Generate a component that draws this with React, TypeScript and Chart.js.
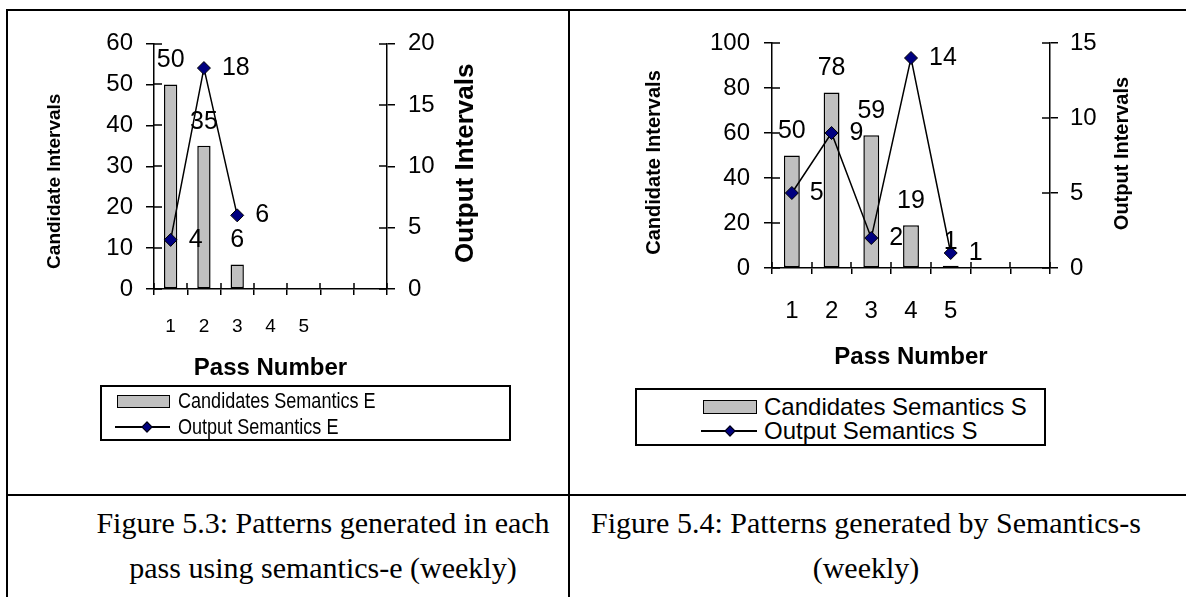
import React, { useEffect, useRef } from "react";
import { Chart, registerables } from "chart.js";

Chart.register(...registerables);

// Pass numbers along the category axis (two trailing empty slots)
const passLabels = ["1", "2", "3", "4", "5", "", ""];

// Semantics-e (weekly)
const candidatesE = [50, 35, 6, null, null, null, null];
const outputE = [4, 18, 6, null, null, null, null];

// Semantics-s (weekly)
const candidatesS = [50, 78, 59, 19, 1, null, null];
const outputS = [5, 9, 2, 14, 1, null, null];

// Axis ranges: [max, step]
const candidateAxisE = [60, 10];
const outputAxisE = [20, 5];
const candidateAxisS = [100, 20];
const outputAxisS = [15, 5];

const SANS = "'Liberation Sans', Arial, Helvetica, sans-serif";
const SERIF = "'Liberation Serif', 'Times New Roman', Times, serif";

// Short inner halves of the tick marks, so every tick crosses its axis
const crossTicks = {
  id: "crossTicks",
  afterDraw(chart: any, _args: any, opts: any) {
    const { ctx, chartArea } = chart;
    ctx.save();
    ctx.strokeStyle = "#000";
    ctx.lineWidth = 1.5;
    Object.values(chart.scales).forEach((s: any) => {
      if (s.axis === "x") {
        const n = s.ticks.length;
        for (let i = 0; i <= n; i++) {
          const x = Math.round(s.left + (s.width * i) / n);
          ctx.beginPath();
          ctx.moveTo(x, chartArea.bottom);
          ctx.lineTo(x, chartArea.bottom - opts.xInner);
          ctx.stroke();
        }
      } else {
        s.ticks.forEach((t: any) => {
          const y = Math.round(s.getPixelForValue(t.value));
          ctx.beginPath();
          if (s.position === "left") {
            ctx.moveTo(chartArea.left, y);
            ctx.lineTo(chartArea.left + opts.yInner, y);
          } else {
            ctx.moveTo(chartArea.right, y);
            ctx.lineTo(chartArea.right - opts.yInner, y);
          }
          ctx.stroke();
        });
      }
    });
    ctx.restore();
  },
};

// Vertical axis titles, both reading bottom-to-top
const sideTitles = {
  id: "sideTitles",
  afterDraw(chart: any, _args: any, opts: any) {
    const { ctx, chartArea } = chart;
    const midY = (chartArea.top + chartArea.bottom) / 2;
    const draw = (t: any, x: number) => {
      ctx.save();
      ctx.translate(x, midY + t.dy);
      ctx.rotate(-Math.PI / 2);
      ctx.font = `bold ${t.size}px ${SANS}`;
      ctx.fillStyle = "#000";
      ctx.textAlign = "center";
      ctx.textBaseline = "middle";
      ctx.fillText(t.text, 0, 0);
      ctx.restore();
    };
    draw(opts.left, chartArea.left - opts.left.dx);
    draw(opts.right, chartArea.right + opts.right.dx);
  },
};

// Value labels: above each bar, to the right of each marker
const valueLabels = {
  id: "valueLabels",
  afterDatasetsDraw(chart: any, _args: any, opts: any) {
    const { ctx } = chart;
    ctx.save();
    ctx.fillStyle = "#000";
    ctx.font = `${opts.size}px ${SANS}`;
    ctx.textBaseline = "middle";
    chart.data.datasets.forEach((ds: any, di: number) => {
      const meta = chart.getDatasetMeta(di);
      meta.data.forEach((el: any, i: number) => {
        const v = ds.data[i];
        if (v === null || v === undefined) return;
        if (meta.type === "bar") {
          ctx.textAlign = "center";
          ctx.fillText(String(v), el.x, el.y - opts.barGap);
        } else {
          ctx.textAlign = "left";
          ctx.fillText(String(v), el.x + opts.pointGap, el.y);
        }
      });
    });
    ctx.restore();
  },
};

type SideTitle = { text: string; size: number; dx: number; dy: number };

type PanelProps = {
  left: number;
  top: number;
  width: number;
  height: number;
  bars: (number | null)[];
  line: (number | null)[];
  leftAxis: number[];
  rightAxis: number[];
  pad: { left: number; right: number; top: number; bottom: number };
  leftAxisWidth: number;
  rightAxisWidth: number;
  xAxisHeight: number;
  leftTitle: SideTitle;
  rightTitle: SideTitle;
  xTickSize: number;
  xTickPad: number;
  yTickPadLeft: number;
  yTickPadRight: number;
};

function Panel(p: PanelProps) {
  const ref = useRef<HTMLCanvasElement | null>(null);

  useEffect(() => {
    if (!ref.current) return;
    const axisLine = { color: "#000", width: 1.5 };
    const yGrid = {
      drawOnChartArea: false,
      drawTicks: true,
      tickLength: 8,
      color: "#000",
      lineWidth: 1.5,
    };
    const chart = new Chart(ref.current, {
      type: "bar",
      data: {
        labels: passLabels,
        datasets: [
          {
            type: "line",
            label: "Output",
            data: p.line,
            yAxisID: "yR",
            order: 0,
            borderColor: "#000",
            borderWidth: 1.5,
            pointStyle: "rectRot",
            pointRadius: 6.5,
            pointBackgroundColor: "#000080",
            pointBorderColor: "#000",
            pointBorderWidth: 1,
            tension: 0,
            fill: false,
          } as any,
          {
            type: "bar",
            label: "Candidates",
            data: p.bars,
            yAxisID: "yL",
            order: 1,
            backgroundColor: "#c0c0c0",
            borderColor: "#000",
            borderWidth: 1.5,
            borderSkipped: false,
            barPercentage: 0.4,
            categoryPercentage: 1,
          } as any,
        ],
      },
      options: {
        animation: false,
        responsive: false,
        devicePixelRatio: 1,
        layout: { padding: p.pad },
        plugins: {
          legend: { display: false },
          tooltip: { enabled: false },
          valueLabels: { size: 25, barGap: 24, pointGap: 18 },
          crossTicks: { xInner: 6, yInner: 8 },
          sideTitles: { left: p.leftTitle, right: p.rightTitle },
        } as any,
        scales: {
          x: {
            type: "category",
            offset: true,
            grid: {
              offset: true,
              drawOnChartArea: false,
              drawTicks: true,
              tickLength: 6,
              color: "#000",
              lineWidth: 1.5,
            },
            border: axisLine,
            ticks: {
              color: "#000",
              font: { family: SANS, size: p.xTickSize },
              padding: p.xTickPad,
              maxRotation: 0,
              autoSkip: false,
            },
            title: {
              display: true,
              text: "Pass Number",
              color: "#000",
              font: { family: SANS, size: 24, weight: "bold" },
              padding: 0,
            },
            afterFit: (s: any) => {
              s.height = p.xAxisHeight;
            },
          },
          yL: {
            type: "linear",
            position: "left",
            min: 0,
            max: p.leftAxis[0],
            grid: yGrid,
            border: axisLine,
            ticks: {
              stepSize: p.leftAxis[1],
              color: "#000",
              font: { family: SANS, size: 24 },
              padding: p.yTickPadLeft,
            },
            afterFit: (s: any) => {
              s.width = p.leftAxisWidth;
            },
          },
          yR: {
            type: "linear",
            position: "right",
            min: 0,
            max: p.rightAxis[0],
            grid: yGrid,
            border: axisLine,
            ticks: {
              stepSize: p.rightAxis[1],
              color: "#000",
              font: { family: SANS, size: 24 },
              padding: p.yTickPadRight,
            },
            afterFit: (s: any) => {
              s.width = p.rightAxisWidth;
            },
          },
        },
      } as any,
      plugins: [crossTicks as any, sideTitles as any, valueLabels as any],
    });
    return () => chart.destroy();
  }, []);

  return (
    <canvas
      ref={ref}
      width={p.width}
      height={p.height}
      style={{ position: "absolute", left: p.left, top: p.top, width: p.width, height: p.height }}
    />
  );
}

type LegendProps = {
  box: { left: number; top: number; width: number; height: number };
  swatch: { left: number; width: number; height: number; y1: number; y2: number; marker: number };
  textLeft: number;
  textSize: number;
  textScale: number;
  barText: string;
  lineText: string;
};

function LegendBox(l: LegendProps) {
  const text = (y: number, s: string) => (
    <div
      style={{
        position: "absolute",
        left: l.textLeft,
        top: y - 15,
        height: 30,
        lineHeight: "30px",
        fontFamily: SANS,
        fontSize: l.textSize,
        whiteSpace: "nowrap",
        transform: `scaleX(${l.textScale})`,
        transformOrigin: "left center",
      }}
    >
      {s}
    </div>
  );
  return (
    <>
      <div
        style={{
          position: "absolute",
          left: l.box.left,
          top: l.box.top,
          width: l.box.width,
          height: l.box.height,
          border: "2px solid #000",
          boxSizing: "border-box",
        }}
      />
      <div
        style={{
          position: "absolute",
          left: l.swatch.left,
          top: l.swatch.y1 - l.swatch.height / 2,
          width: l.swatch.width,
          height: l.swatch.height,
          background: "#c0c0c0",
          border: "1.5px solid #000",
          boxSizing: "border-box",
        }}
      />
      {text(l.swatch.y1, l.barText)}
      <div
        style={{
          position: "absolute",
          left: l.swatch.left - 2,
          top: l.swatch.y2 - 1,
          width: l.swatch.width + 2,
          height: 1.5,
          background: "#000",
        }}
      />
      <div
        style={{
          position: "absolute",
          left: l.swatch.marker - 4,
          top: l.swatch.y2 - 4,
          width: 8,
          height: 8,
          background: "#000080",
          border: "1px solid #000",
          boxSizing: "border-box",
          transform: "rotate(45deg)",
        }}
      />
      {text(l.swatch.y2, l.lineText)}
    </>
  );
}

function Caption({ center, top, lines }: { center: number; top: number; lines: string[] }) {
  return (
    <div
      style={{
        position: "absolute",
        left: center,
        top,
        transform: "translateX(-50%)",
        fontFamily: SERIF,
        fontSize: 30,
        lineHeight: "45px",
        textAlign: "center",
        whiteSpace: "nowrap",
        color: "#000",
      }}
    >
      {lines.map((t, i) => (
        <div key={i}>{t}</div>
      ))}
    </div>
  );
}

export default function App() {
  const rule = (l: number, t: number, w: number, h: number) => (
    <div style={{ position: "absolute", left: l, top: t, width: w, height: h, background: "#000" }} />
  );
  return (
    <div
      style={{
        position: "absolute",
        left: 0,
        top: 0,
        width: 1186,
        height: 597,
        overflow: "hidden",
        background: "#fff",
      }}
    >
      {/* table rules */}
      {rule(6, 9, 1180, 2)}
      {rule(6, 9, 2, 588)}
      {rule(568, 9, 2, 588)}
      {rule(6, 494, 1180, 2)}

      <Panel
        left={10}
        top={12}
        width={555}
        height={375}
        bars={candidatesE}
        line={outputE}
        leftAxis={candidateAxisE}
        rightAxis={outputAxisE}
        pad={{ left: 33.6, top: 31.5, right: 83.4, bottom: 4.6 }}
        leftAxisWidth={110.4}
        rightAxisWidth={94.6}
        xAxisHeight={93.4}
        leftTitle={{ text: "Candidate Intervals", size: 19, dx: 99, dy: 15 }}
        rightTitle={{ text: "Output Intervals", size: 26, dx: 79, dy: -3 }}
        xTickSize={19}
        xTickPad={20}
        yTickPadLeft={13}
        yTickPadRight={13}
      />
      <Panel
        left={575}
        top={12}
        width={600}
        height={375}
        bars={candidatesS}
        line={outputS}
        leftAxis={candidateAxisS}
        rightAxis={outputAxisS}
        pad={{ left: 67, top: 31, right: 41, bottom: 15.6 }}
        leftAxisWidth={130}
        rightAxisWidth={84}
        xAxisHeight={103.4}
        leftTitle={{ text: "Candidate Intervals", size: 20, dx: 118, dy: 7 }}
        rightTitle={{ text: "Output Intervals", size: 20, dx: 72, dy: -2 }}
        xTickSize={24}
        xTickPad={23}
        yTickPadLeft={14}
        yTickPadRight={12}
      />

      <LegendBox
        box={{ left: 100, top: 385, width: 411, height: 56 }}
        swatch={{ left: 117, width: 53, height: 13, y1: 401, y2: 427, marker: 147 }}
        textLeft={178}
        textSize={22}
        textScale={0.82}
        barText="Candidates Semantics E"
        lineText="Output Semantics E"
      />
      <LegendBox
        box={{ left: 635, top: 388, width: 411, height: 58 }}
        swatch={{ left: 703, width: 54, height: 14, y1: 407, y2: 431, marker: 730 }}
        textLeft={764}
        textSize={24}
        textScale={1}
        barText="Candidates Semantics S"
        lineText="Output Semantics S"
      />

      <Caption center={323} top={500} lines={["Figure 5.3: Patterns generated in each", "pass using semantics-e (weekly)"]} />
      <Caption center={866} top={500} lines={["Figure 5.4: Patterns generated by Semantics-s", "(weekly)"]} />
    </div>
  );
}
